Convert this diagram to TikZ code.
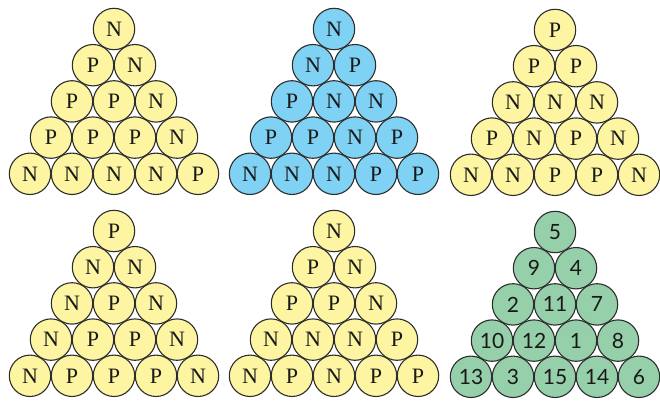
\documentclass[tikz,border=0pt]{standalone}
\usepackage{fontspec}
\setmainfont{Liberation Serif}
\newfontfamily\numfont{Lato}
\definecolor{ballyellow}{RGB}{253,245,162}
\definecolor{ballblue}{RGB}{128,210,245}
\definecolor{ballgreen}{RGB}{150,208,170}
\definecolor{ballline}{RGB}{45,45,45}
\tikzset{
  ball/.style={circle,draw=ballline,line width=1.1pt,minimum size=41.4pt,inner sep=0pt,text=black!90},
  yellowball/.style={ball,fill=ballyellow,font=\fontsize{22}{26}\selectfont},
  blueball/.style={ball,fill=ballblue,font=\fontsize{22}{26}\selectfont},
  greenball/.style={ball,fill=ballgreen,font=\numfont\fontsize{21}{25}\selectfont}
}
\begin{document}
\begin{tikzpicture}[x=1pt,y=1pt]
\useasboundingbox (0,0) rectangle (660,402);

% top left
\foreach \t [count=\i] in {N} \node[yellowball] (A-0-\i) at ({114+42*(\i-1)},373) {\t};
\foreach \t [count=\i] in {P,N} \node[yellowball] (A-1-\i) at ({93+42*(\i-1)},336.8) {\t};
\foreach \t [count=\i] in {P,P,N} \node[yellowball] (A-2-\i) at ({72+42*(\i-1)},300.6) {\t};
\foreach \t [count=\i] in {P,P,P,N} \node[yellowball] (A-3-\i) at ({51+42*(\i-1)},264.4) {\t};
\foreach \t [count=\i] in {N,N,N,N,P} \node[yellowball] (A-4-\i) at ({30+42*(\i-1)},228.2) {\t};

% top middle
\foreach \t [count=\i] in {N} \node[blueball] (B-0-\i) at ({334+42*(\i-1)},373) {\t};
\foreach \t [count=\i] in {N,P} \node[blueball] (B-1-\i) at ({313+42*(\i-1)},336.8) {\t};
\foreach \t [count=\i] in {P,N,N} \node[blueball] (B-2-\i) at ({292+42*(\i-1)},300.6) {\t};
\foreach \t [count=\i] in {P,P,N,P} \node[blueball] (B-3-\i) at ({271+42*(\i-1)},264.4) {\t};
\foreach \t [count=\i] in {N,N,N,P,P} \node[blueball] (B-4-\i) at ({250+42*(\i-1)},228.2) {\t};

% top right
\foreach \t [count=\i] in {P} \node[yellowball] (C-0-\i) at ({555+42*(\i-1)},372) {\t};
\foreach \t [count=\i] in {P,P} \node[yellowball] (C-1-\i) at ({534+42*(\i-1)},335.8) {\t};
\foreach \t [count=\i] in {N,N,N} \node[yellowball] (C-2-\i) at ({513+42*(\i-1)},299.6) {\t};
\foreach \t [count=\i] in {P,N,P,N} \node[yellowball] (C-3-\i) at ({492+42*(\i-1)},263.4) {\t};
\foreach \t [count=\i] in {N,N,P,P,N} \node[yellowball] (C-4-\i) at ({471+42*(\i-1)},227.2) {\t};

% bottom left
\foreach \t [count=\i] in {P} \node[yellowball] (D-0-\i) at ({114+42*(\i-1)},171) {\t};
\foreach \t [count=\i] in {N,N} \node[yellowball] (D-1-\i) at ({93+42*(\i-1)},134.8) {\t};
\foreach \t [count=\i] in {N,P,N} \node[yellowball] (D-2-\i) at ({72+42*(\i-1)},98.6) {\t};
\foreach \t [count=\i] in {N,P,P,N} \node[yellowball] (D-3-\i) at ({51+42*(\i-1)},62.4) {\t};
\foreach \t [count=\i] in {N,P,P,P,N} \node[yellowball] (D-4-\i) at ({30+42*(\i-1)},26.2) {\t};

% bottom middle
\foreach \t [count=\i] in {N} \node[yellowball] (E-0-\i) at ({334+42*(\i-1)},171) {\t};
\foreach \t [count=\i] in {P,N} \node[yellowball] (E-1-\i) at ({313+42*(\i-1)},134.8) {\t};
\foreach \t [count=\i] in {P,P,N} \node[yellowball] (E-2-\i) at ({292+42*(\i-1)},98.6) {\t};
\foreach \t [count=\i] in {N,N,N,P} \node[yellowball] (E-3-\i) at ({271+42*(\i-1)},62.4) {\t};
\foreach \t [count=\i] in {N,P,N,P,P} \node[yellowball] (E-4-\i) at ({250+42*(\i-1)},26.2) {\t};

% bottom right
\foreach \t [count=\i] in {5} \node[greenball] (F-0-\i) at ({555+42*(\i-1)},170) {\t};
\foreach \t [count=\i] in {9,4} \node[greenball] (F-1-\i) at ({534+42*(\i-1)},133.8) {\t};
\foreach \t [count=\i] in {2,11,7} \node[greenball] (F-2-\i) at ({513+42*(\i-1)},97.6) {\t};
\foreach \t [count=\i] in {10,12,1,8} \node[greenball] (F-3-\i) at ({492+42*(\i-1)},61.4) {\t};
\foreach \t [count=\i] in {13,3,15,14,6} \node[greenball] (F-4-\i) at ({471+42*(\i-1)},25.2) {\t};
\end{tikzpicture}
\end{document}
